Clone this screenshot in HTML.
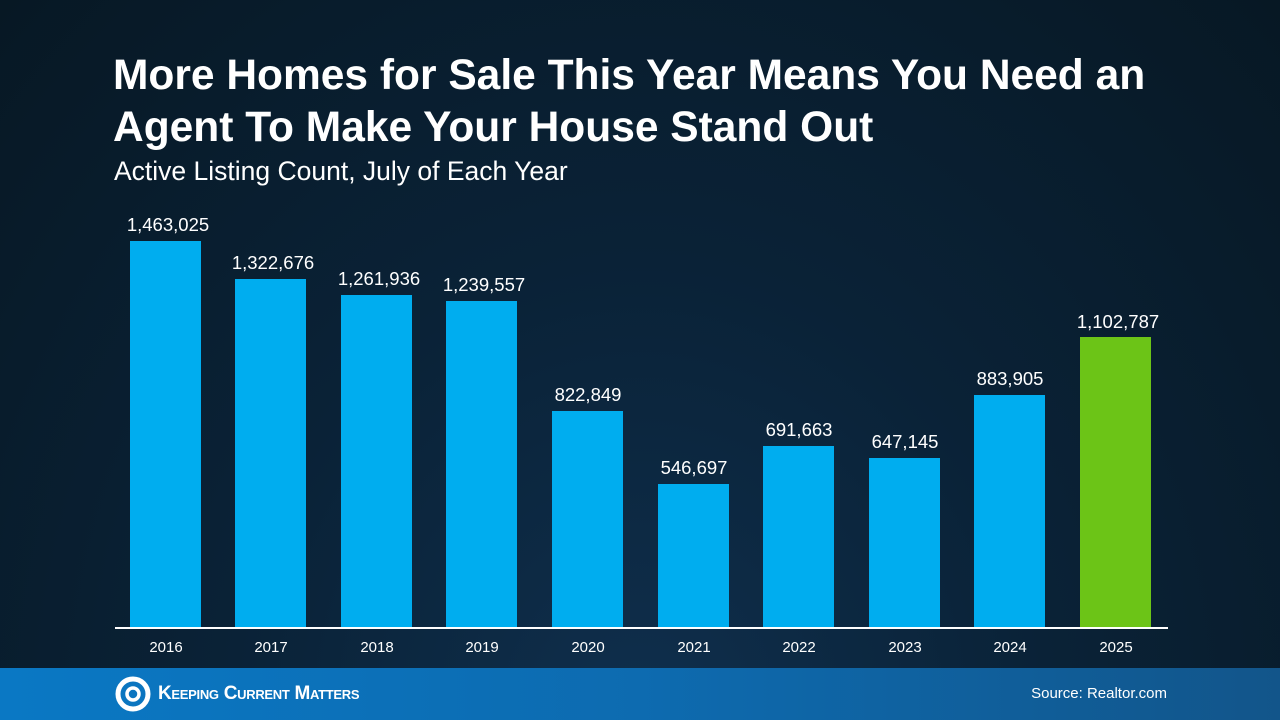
<!DOCTYPE html>
<html><head><style>
*{margin:0;padding:0}
body{width:1280px;height:720px;overflow:hidden;position:relative;font-family:"Liberation Sans",Arial,sans-serif;background:radial-gradient(ellipse at 50% 100%,#0f2f4d 0%,#0a2237 45%,#071824 100%);color:#fff}
h1{position:absolute;left:113px;top:50px;font-size:42.5px;line-height:52px;font-weight:bold;letter-spacing:0}
.sub{position:absolute;left:114px;top:156px;font-size:26.5px}
.bar{position:absolute;width:71px;background:#00adef}
.lab{position:absolute;width:140px;text-align:center;font-size:18.5px}
.yr{position:absolute;top:639px;width:100px;text-align:center;font-size:15px}
.axis{position:absolute;left:115px;top:627px;width:1053px;height:2px;background:#fff}
.foot{position:absolute;left:0;top:668px;width:1280px;height:52px;background:linear-gradient(90deg,#0a78c4,#0d6bb0 50%,#12558a)}
.logo{position:absolute;left:115px;top:676px;width:36px;height:36px}
.kcm{position:absolute;left:158px;top:683px;font-size:19px;font-weight:bold;font-variant:small-caps;letter-spacing:-0.3px}
.src{position:absolute;right:113px;top:685px;font-size:15px}
</style></head><body>
<h1>More Homes for Sale This Year Means You Need an<br>Agent To Make Your House Stand Out</h1>
<div class="sub">Active Listing Count, July of Each Year</div>
<div class="bar" style="left:130px;top:241px;height:387px"></div>
<div class="bar" style="left:235px;top:279px;height:349px"></div>
<div class="bar" style="left:341px;top:295px;height:333px"></div>
<div class="bar" style="left:446px;top:301px;height:327px"></div>
<div class="bar" style="left:552px;top:411px;height:217px"></div>
<div class="bar" style="left:658px;top:484px;height:144px"></div>
<div class="bar" style="left:763px;top:446px;height:182px"></div>
<div class="bar" style="left:869px;top:458px;height:170px"></div>
<div class="bar" style="left:974px;top:395px;height:233px"></div>
<div class="bar" style="left:1080px;top:337px;height:291px;background:#6cc417"></div>
<div class="lab" style="left:98px;top:214px">1,463,025</div>
<div class="lab" style="left:203px;top:252px">1,322,676</div>
<div class="lab" style="left:309px;top:268px">1,261,936</div>
<div class="lab" style="left:414px;top:274px">1,239,557</div>
<div class="lab" style="left:518px;top:384px">822,849</div>
<div class="lab" style="left:624px;top:457px">546,697</div>
<div class="lab" style="left:729px;top:419px">691,663</div>
<div class="lab" style="left:835px;top:431px">647,145</div>
<div class="lab" style="left:940px;top:368px">883,905</div>
<div class="lab" style="left:1048px;top:311px">1,102,787</div>
<div class="axis"></div>
<div class="yr" style="left:116px">2016</div>
<div class="yr" style="left:221px">2017</div>
<div class="yr" style="left:327px">2018</div>
<div class="yr" style="left:432px">2019</div>
<div class="yr" style="left:538px">2020</div>
<div class="yr" style="left:644px">2021</div>
<div class="yr" style="left:749px">2022</div>
<div class="yr" style="left:855px">2023</div>
<div class="yr" style="left:960px">2024</div>
<div class="yr" style="left:1066px">2025</div>
<div class="foot"></div>
<svg class="logo" viewBox="0 0 36 36"><circle cx="18" cy="18" r="15" fill="none" stroke="#fff" stroke-width="5"/><circle cx="18" cy="18" r="6" fill="none" stroke="#fff" stroke-width="3.5"/></svg>
<div class="kcm">Keeping Current Matters</div>
<div class="src">Source: Realtor.com</div>
</body></html>
